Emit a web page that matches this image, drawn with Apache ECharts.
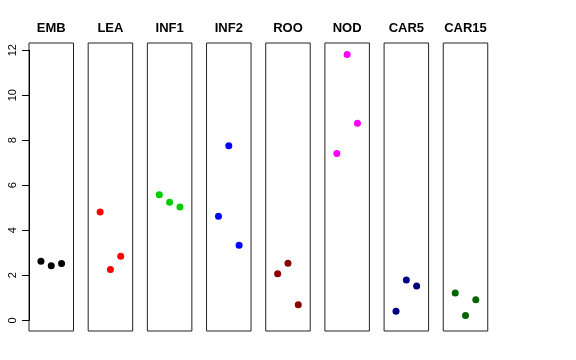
<!DOCTYPE html>
<html><head><meta charset="utf-8">
<script src="https://cdn.jsdelivr.net/npm/echarts@6/dist/echarts.min.js"></script>
<style>html,body{margin:0;padding:0;background:#fff}#c{width:576px;height:360px}</style>
</head><body><div id="c"></div>
<script>
const panels = ['EMB','LEA','INF1','INF2','ROO','NOD','CAR5','CAR15'];
const colors = ['#000000','#FF0000','#00CD00','#0000FF','#8B0000','#FF00FF','#000080','#006400'];
const xPos = [1, 2, 3];
const EMB = [2.63, 2.42, 2.53];
const LEA = [4.81, 2.26, 2.85];
const INF1 = [5.58, 5.24, 5.03];
const INF2 = [4.62, 7.75, 3.34];
const ROO = [2.07, 2.54, 0.69];
const NOD = [7.41, 11.81, 8.76];
const CAR5 = [0.40, 1.79, 1.53];
const CAR15 = [1.21, 0.22, 0.91];
const values = [EMB, LEA, INF1, INF2, ROO, NOD, CAR5, CAR15];
const yTicks = [0, 2, 4, 6, 8, 10, 12];

(function () {
const yMin = -0.474, yMax = 12.32;
const left0 = 29, step = 59.18, pw = 44.5, pTop = 43, ph = 288;
const font = 'Liberation Sans, Arial, sans-serif';

const grid = [], xAxis = [], yAxis = [], series = [], title = [];
panels.forEach((p, i) => {
  grid.push({left: left0 + i*step, top: pTop, width: pw, height: ph, show: true,
    borderColor: '#222', borderWidth: 1, backgroundColor: 'transparent'});
  xAxis.push({type: 'value', gridIndex: i, min: -0.16, max: 4.16, show: false});
  yAxis.push({type: 'value', gridIndex: i, min: yMin, max: yMax, show: false});
  series.push({type: 'scatter', xAxisIndex: i, yAxisIndex: i, symbolSize: 7,
    itemStyle: {color: colors[i], opacity: 1},
    data: values[i].map((v, k) => [xPos[k], v])});
  title.push({text: p, left: left0 + i*step + pw/2, top: 22, padding: 0, textAlign: 'center',
    textStyle: {fontFamily: font, fontSize: 13, fontWeight: 'bold', color: '#000'}});
});
const pxPerUnit = ph / (yMax - yMin);
const axTop = pTop + (yMax - 12) * pxPerUnit;
const axH = 12 * pxPerUnit;
grid.push({left: left0, top: axTop, width: pw, height: axH, show: false});
xAxis.push({type: 'value', gridIndex: 8, min: 0, max: 1, show: false});
yAxis.push({type: 'value', gridIndex: 8, min: yTicks[0], max: yTicks[yTicks.length-1], interval: 2,
  axisLine: {show: true, lineStyle: {color: '#000', width: 1}},
  axisTick: {show: true, length: 7, lineStyle: {color: '#000'}},
  splitLine: {show: false},
  axisLabel: {show: true, rotate: 90, margin: 11, color: '#000', fontSize: 11, fontFamily: font}
});

const chart = echarts.init(document.getElementById('c'), null, {renderer: 'canvas'});
chart.setOption({animation: false, backgroundColor: '#fff', title, grid, xAxis, yAxis, series});
})();
</script></body></html>
